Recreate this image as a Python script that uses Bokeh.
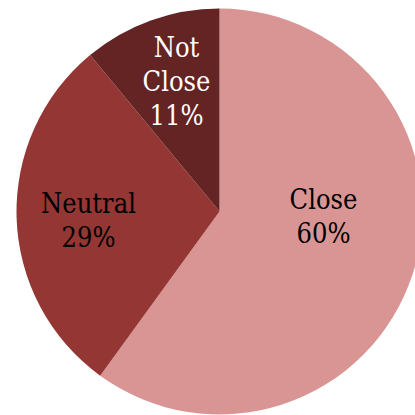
import math
from bokeh.plotting import figure
from bokeh.models import Range1d, ColumnDataSource
from bokeh.core.properties import value
from bokeh.embed import file_html
from bokeh.resources import INLINE

# data
categories = ["Close", "Neutral", "Not Close"]
shares = [60, 29, 11]
colors = ["#D99594", "#943634", "#632423"]
label_colors = ["black", "black", "white"]

# layout (pixel-like data units, y up)
W = H = 415
cx, cy, r = 219, H - 211, 203
label_x = [323, 88, 176]
label_y_mid = [216, 220, 81]  # center of label block, from top

total = sum(shares)
starts, ends = [], []
a = math.pi / 2
for s in shares:
    starts.append(a)
    a -= 2 * math.pi * s / total
    ends.append(a)

labels = []
for c, s in zip(categories, shares):
    labels.append(c.replace(" ", "\n") + "\n" + f"{s}%")

src = ColumnDataSource(dict(start=starts, end=ends, color=colors, cat=categories))

p = figure(width=W, height=H, output_backend="svg", toolbar_location=None,
           x_range=Range1d(0, W), y_range=Range1d(0, H), min_border=0)
p.axis.visible = False
p.grid.visible = False
p.outline_line_color = None
p.background_fill_color = "white"

p.wedge(x=cx, y=cy, radius=r, start_angle="start", end_angle="end", direction="clock",
        fill_color="color", line_color=None, source=src)

lsrc = ColumnDataSource(dict(x=label_x, y=[H - y for y in label_y_mid], text=labels, color=label_colors))
p.text(x="x", y="y", text="text", text_color="color", source=lsrc,
       text_font=value("DejaVu Serif Condensed"), text_font_size="27px",
       text_align="center", text_baseline="middle", text_line_height=1.1)

open("out.html", "w").write(file_html(p, INLINE))
